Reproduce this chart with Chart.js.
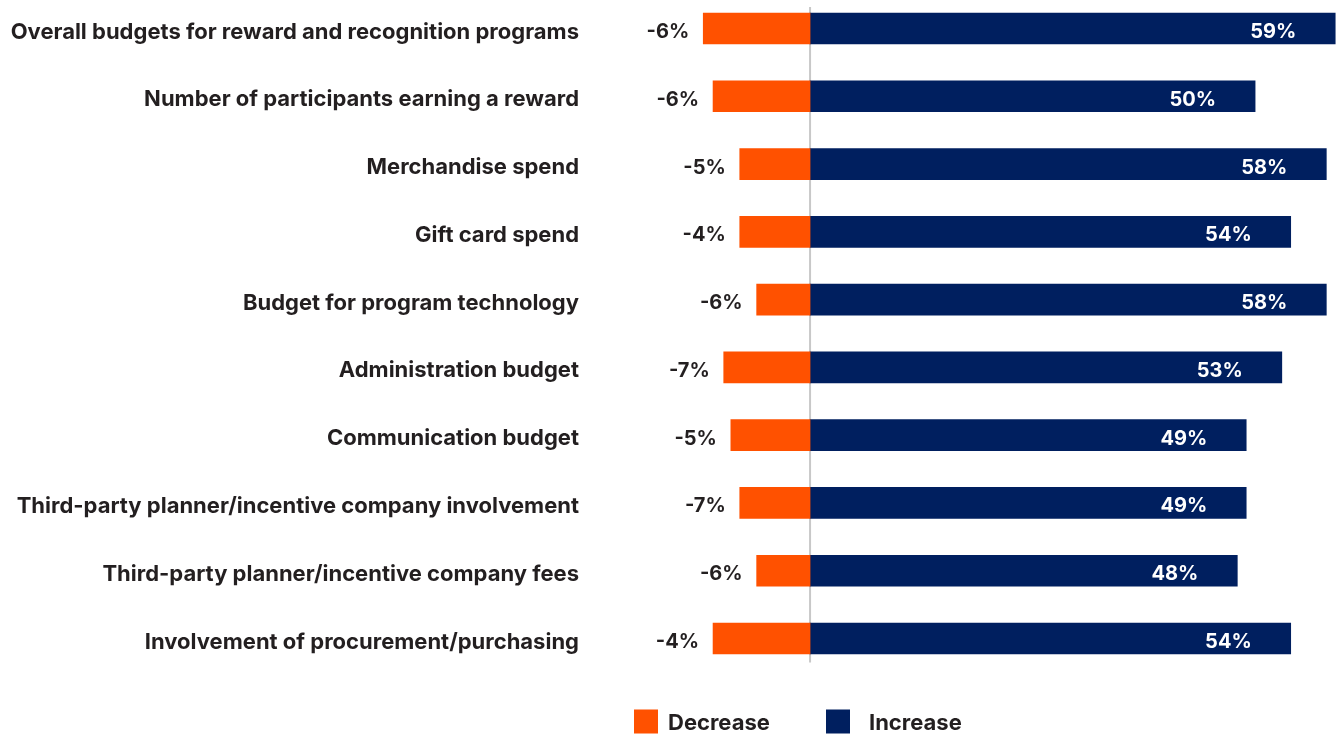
<!DOCTYPE html>
<html>
<head>
<meta charset="utf-8">
<script src="https://cdn.jsdelivr.net/npm/chart.js@4.4.1/dist/chart.umd.min.js"></script>
<style>
  html, body { margin: 0; padding: 0; background: #ffffff; }
  #wrap { width: 1337px; height: 736px; position: relative; }
</style>
</head>
<body>
<div id="wrap"><canvas id="chart"></canvas></div>
<script>
// Data
const categories = [
    'Overall budgets for reward and recognition programs',
    'Number of participants earning a reward',
    'Merchandise spend',
    'Gift card spend',
    'Budget for program technology',
    'Administration budget',
    'Communication budget',
    'Third-party planner/incentive company involvement',
    'Third-party planner/incentive company fees',
    'Involvement of procurement/purchasing'
];
// bar lengths as drawn in the picture (they don't follow the printed labels)
const decreaseBars = [-12, -10.9, -7.9, -7.9, -6, -9.7, -8.9, -7.9, -6, -10.9];
const decreaseLabels = ['-6%', '-6%', '-5%', '-4%', '-6%', '-7%', '-5%', '-7%', '-6%', '-4%'];
const increaseValues = [59, 50, 58, 54, 58, 53, 49, 49, 48, 54];

const ORANGE = '#ff5100';
const NAVY = '#001f5f';
const TEXT = '#231f20';
const FONT = 'Inter, "Open Sans", sans-serif';

// zero line, value labels, legend
const labelPlugin = {
    id: 'labelPlugin',
    beforeDatasetsDraw(chart) {
        const ctx = chart.ctx;
        const x0 = chart.scales.x.getPixelForValue(0);
        ctx.save();
        ctx.strokeStyle = '#c8c8c8';
        ctx.lineWidth = 2;
        ctx.beginPath();
        ctx.moveTo(x0, 7);
        ctx.lineTo(x0, chart.chartArea.bottom + 24);
        ctx.stroke();
        ctx.restore();
    },
    afterDatasetsDraw(chart) {
        const ctx = chart.ctx;
        ctx.save();
        ctx.font = 'bold 20px ' + FONT;
        ctx.textBaseline = 'middle';
        ctx.textAlign = 'right';
        chart.getDatasetMeta(0).data.forEach((bar, i) => {
            ctx.fillStyle = TEXT;
            ctx.fillText(decreaseLabels[i], bar.x - 14, bar.y + 3.5);
        });
        chart.getDatasetMeta(1).data.forEach((bar, i) => {
            ctx.fillStyle = '#ffffff';
            ctx.fillText(increaseValues[i] + '%', bar.x - 39, bar.y + 3.5);
        });

        // legend under the bars
        const legendX = [634, 826];
        const textGap = [10, 19];
        const legendY = chart.chartArea.bottom + 71;
        ctx.textAlign = 'left';
        ctx.font = 'bold 22px ' + FONT;
        chart.data.datasets.forEach((ds, i) => {
            ctx.fillStyle = ds.backgroundColor;
            ctx.fillRect(legendX[i], legendY, 24, 24);
            ctx.fillStyle = TEXT;
            ctx.fillText(ds.label, legendX[i] + 24 + textGap[i], legendY + 14);
        });
        ctx.restore();
    }
};

new Chart(document.getElementById('chart'), {
    type: 'bar',
    data: {
        labels: categories,
        datasets: [
            {
                label: 'Decrease',
                data: decreaseBars,
                backgroundColor: ORANGE,
                barThickness: 31,
                clip: false
            },
            {
                label: 'Increase',
                data: increaseValues,
                backgroundColor: NAVY,
                barThickness: 31,
                clip: false
            }
        ]
    },
    options: {
        indexAxis: 'y',
        responsive: true,
        maintainAspectRatio: false,
        animation: false,
        layout: {
            padding: { top: 28.5, right: 0, left: 0, bottom: 97.5 }
        },
        plugins: {
            legend: { display: false },
            tooltip: { enabled: false }
        },
        scales: {
            x: {
                stacked: true,
                display: false,
                min: -23.6,
                max: 59.2
            },
            y: {
                stacked: true,
                offset: false,
                border: { display: false },
                grid: { display: false, drawTicks: false },
                ticks: {
                    padding: 21,
                    labelOffset: 3.5,
                    color: TEXT,
                    font: { family: FONT, size: 22, weight: 'bold' }
                },
                afterFit(scale) {
                    scale.width = 600;
                    scale.paddingTop = 0;
                    scale.paddingBottom = 0;
                }
            }
        }
    },
    plugins: [labelPlugin]
});
</script>
</body>
</html>
